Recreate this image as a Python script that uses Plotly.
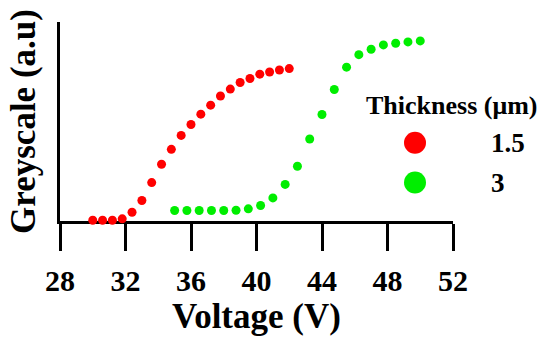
import plotly.graph_objects as go

# ---- data ----
voltage_15 = [30.0, 30.6, 31.2, 31.8, 32.4, 33.0, 33.6, 34.2, 34.8, 35.4, 36.0,
              36.6, 37.2, 37.8, 38.4, 39.0, 39.6, 40.2, 40.8, 41.4, 42.0]
grey_15 = [0.4, 0.4, 0.4, 1.1, 4.4, 10.3, 19.3, 28.5, 36.0, 43.0, 48.5,
           53.7, 58.2, 62.8, 66.3, 69.6, 71.6, 73.8, 74.9, 75.9, 76.6]

voltage_3 = [35.0, 35.75, 36.5, 37.25, 38.0, 38.75, 39.5, 40.25, 41.0, 41.75, 42.5,
             43.25, 44.0, 44.75, 45.5, 46.25, 47.0, 47.75, 48.5, 49.25, 50.0]
grey_3 = [5.3, 5.3, 5.3, 5.3, 5.3, 5.4, 6.1, 7.8, 11.6, 18.4, 27.5,
          41.2, 53.5, 66.1, 77.3, 83.6, 86.3, 88.5, 89.3, 90.0, 90.5]

x_ticks = [28, 32, 36, 40, 44, 48, 52]
legend_title = "Thickness (μm)"
legend_labels = ["1.5", "3"]
colors = ["#ff0000", "#00ee00"]

FONT = "Liberation Serif"

W, H = 541, 337
ml, mr, mt, mb = 60, 88, 22, 115.5
pw, ph = W - ml - mr, H - mt - mb


def px2paper(px, py):
    return (px - ml) / pw, (H - mb - py) / ph


fig = go.Figure()
for xs, ys, name, col in [(voltage_15, grey_15, legend_labels[0], colors[0]),
                          (voltage_3, grey_3, legend_labels[1], colors[1])]:
    fig.add_trace(go.Scatter(
        x=xs, y=ys, mode="markers", name=name, showlegend=False,
        marker=dict(color=col, size=9, line=dict(width=0)),
        cliponaxis=False,
    ))

# custom legend (title, symbols, labels)
tx, ty = px2paper(451, 106)
fig.add_annotation(x=tx, y=ty, xref="paper", yref="paper", text="<b>" + legend_title + "</b>",
                   showarrow=False, font=dict(family=FONT, size=26, color="black"),
                   xanchor="center", yanchor="middle")
legend_y = [143, 183]
for lab, col, ly in zip(legend_labels, colors, legend_y):
    sx, sy = px2paper(415, ly)
    fig.add_shape(type="circle", xref="paper", yref="paper", xsizemode="pixel", ysizemode="pixel",
                  xanchor=sx, yanchor=sy, x0=-11, x1=11, y0=-11, y1=11,
                  fillcolor=col, line=dict(width=0))
    ax, ay = px2paper(489, ly)
    fig.add_annotation(x=ax, y=ay, xref="paper", yref="paper", text="<b>" + lab + "</b>",
                       showarrow=False, font=dict(family=FONT, size=27, color="black"),
                       xanchor="left", yanchor="middle")

fig.update_layout(
    width=W, height=H,
    margin=dict(l=ml, r=mr, t=mt, b=mb),
    paper_bgcolor="white", plot_bgcolor="white",
    font=dict(family=FONT, color="black"),
    showlegend=False,
    xaxis=dict(
        range=[28, 52], tickvals=x_ticks, ticktext=["<b>%d</b>" % v for v in x_ticks],
        showgrid=False, zeroline=False, showline=True, linecolor="black", linewidth=2.5,
        ticks="outside", ticklen=27, tickwidth=2.5, tickcolor="black",
        tickfont=dict(family=FONT, size=30, color="black"),
        ticklabelstandoff=4,
        title=dict(text="<b>Voltage (V)</b>", font=dict(family=FONT, size=35, color="black"), standoff=6),
        layer="below traces", automargin=False,
    ),
    yaxis=dict(
        range=[0, 100], showticklabels=False, ticks="",
        showgrid=False, zeroline=False, showline=True, linecolor="black", linewidth=2.5,
        title=dict(text="<b>Greyscale (a.u)</b>", font=dict(family=FONT, size=35, color="black"), standoff=12),
        layer="below traces", automargin=False,
    ),
)

fig.write_html("out.html", config={"displayModeBar": False},
               post_script="document.body.style.margin='0px';")
